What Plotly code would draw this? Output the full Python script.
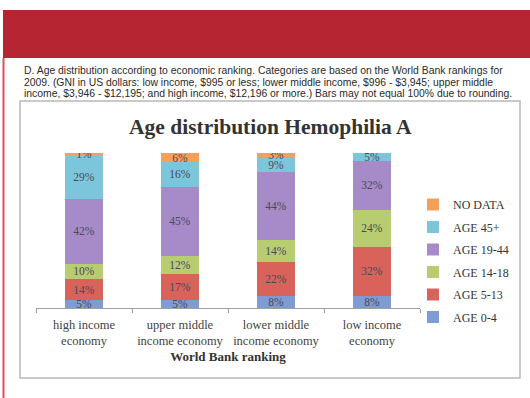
import plotly.graph_objects as go

W, H = 530, 398

categories = ["high income<br>economy", "upper middle<br>income economy",
              "lower middle<br>income economy", "low income<br>economy"]
age_0_4 = [5, 5, 8, 8]
age_5_13 = [14, 17, 22, 32]
age_14_18 = [10, 12, 14, 24]
age_19_44 = [42, 45, 44, 32]
age_45_plus = [29, 16, 9, 5]
no_data = [1, 6, 3, 0]

series = [
    ("AGE 0-4", age_0_4, "#7f9bd4"),
    ("AGE 5-13", age_5_13, "#d9625a"),
    ("AGE 14-18", age_14_18, "#b8cc70"),
    ("AGE 19-44", age_19_44, "#a68bc8"),
    ("AGE 45+", age_45_plus, "#7cc6dc"),
    ("NO DATA", no_data, "#f5a05a"),
]

caption_lines = [
    "D. Age distribution according to economic ranking. Categories are based on the World Bank rankings for",
    "2009. (GNI in US dollars: low income, $995 or less; lower middle income, $996 - $3,945; upper middle",
    "income, $3,946 - $12,195; and high income, $12,196 or more.) Bars may not equal 100% due to rounding.",
]

def px(x):
    return x / W

def py(y):
    return 1 - y / H

fig = go.Figure()
for i, (name, vals, col) in enumerate(series):
    fig.add_trace(go.Bar(
        x=categories, y=vals, name=name, marker_color=col,
        marker_line_width=0,
        text=[f"{v}%" if v > 0 else "" for v in vals],
        textposition="inside", insidetextanchor="middle",
        textfont=dict(family="Liberation Serif", size=11.5, color="#4a4a5a"),
        legendgroup=name, legendrank=100 - i,
    ))

shapes = [
    dict(type="rect", xref="paper", yref="paper", x0=px(3), x1=px(530), y0=py(10), y1=py(58),
         fillcolor="#b52532", line_width=0, layer="below"),
    dict(type="line", xref="paper", yref="paper", x0=px(3.5), x1=px(3.5), y0=py(58), y1=py(398),
         line=dict(color="#e05050", width=2)),
    dict(type="rect", xref="paper", yref="paper", x0=px(20), x1=px(520), y0=py(101), y1=py(378),
         line=dict(color="#b8b8b8", width=1.5), fillcolor="rgba(0,0,0,0)", layer="below"),
]

annotations = []
for i, line in enumerate(caption_lines):
    annotations.append(dict(text=line, xref="paper", yref="paper", x=px(22), y=py(71 + 11 * i),
                            xanchor="left", yanchor="middle", showarrow=False,
                            font=dict(family="Liberation Sans", size=10.4, color="#2a2a2a")))
annotations.append(dict(text="<b>Age distribution Hemophilia A</b>", xref="paper", yref="paper",
                        x=px(270), y=py(127), xanchor="center", yanchor="middle", showarrow=False,
                        font=dict(family="Liberation Serif", size=21.5, color="#333333")))

fig.update_layout(
    width=W, height=H, margin=dict(l=0, r=0, t=0, b=0),
    paper_bgcolor="white", plot_bgcolor="white",
    barmode="stack", barnorm="percent", bargap=0.6,
    uniformtext=dict(minsize=11, mode="show"),
    shapes=shapes, annotations=annotations,
    showlegend=True,
    legend=dict(x=px(413), y=py(190), xanchor="left", yanchor="top",
                traceorder="grouped", tracegroupgap=3.5, itemwidth=30,
                font=dict(family="Liberation Serif", size=12, color="#333333"),
                bgcolor="rgba(0,0,0,0)"),
    xaxis=dict(domain=[px(36), px(420)], showline=True, linecolor="#a0a0a0", linewidth=1,
               ticks="outside", tickson="boundaries", ticklen=4, tickcolor="#a0a0a0",
               ticklabelstandoff=5,
               tickfont=dict(family="Liberation Serif", size=12.5, color="#444444"),
               title=dict(text="<b>World Bank ranking</b>", standoff=4,
                          font=dict(family="Liberation Serif", size=13, color="#333333"))),
    yaxis=dict(domain=[py(308), py(153)], range=[0, 100], visible=False),
)

fig.write_html("out.html")
